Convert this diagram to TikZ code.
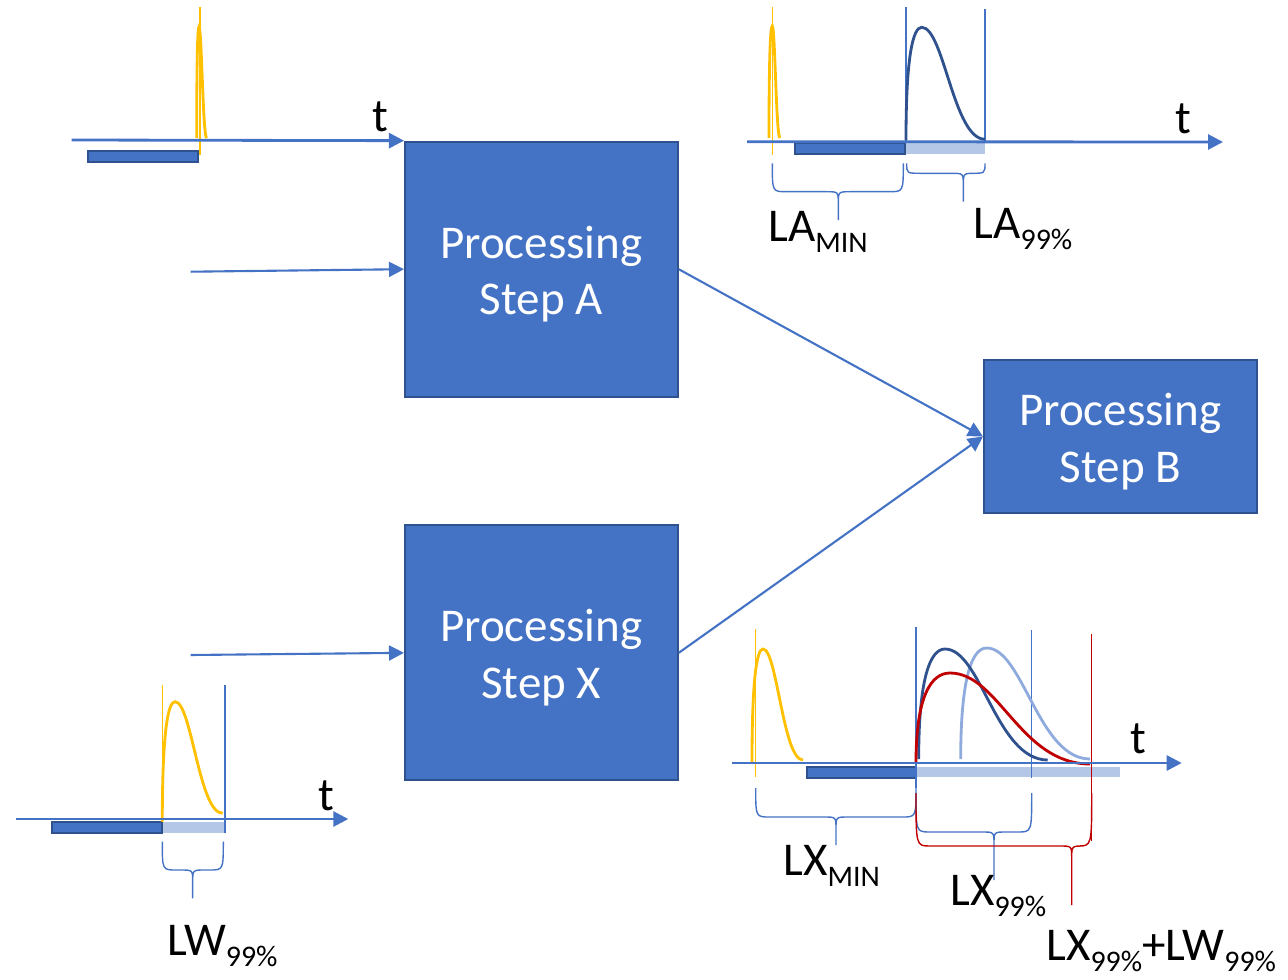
\documentclass[tikz,border=0pt]{standalone}
\usepackage{fontspec}
\setmainfont{Carlito}
\usepackage{xcolor}
\usepackage{tikz}
\usetikzlibrary{arrows.meta,positioning,calc}

\definecolor{pblue}{HTML}{4472C4}
\definecolor{pdark}{HTML}{2F528F}
\definecolor{plight}{HTML}{B4C7E7}
\definecolor{pmid}{HTML}{8FAADC}
\definecolor{pyellow}{HTML}{FFC000}
\definecolor{pred}{HTML}{C00000}

\newcommand{\lsub}[1]{\raisebox{-6.3pt}{\fontsize{17}{17}\selectfont #1}}
\newcommand{\pulse}[7][]{\draw[curve,#1] (#2,#3) .. controls (#2,{#5+0.25*(#3-#5)}) and ({#4-0.55*(#4-#2)},#5) .. (#4,#5)
  .. controls ({#4+0.35*(#6-#4)},#5) and ({#4+0.5*(#6-#4)},#7) .. (#6,#7);}
\newcommand{\tbrace}[7][]{\draw[brc,#1] (#2,#4) .. controls (#2,#5) .. ({#2+14},#5) -- ({#6-12},#5)
  .. controls (#6,#5) .. (#6,{#5+12}) -- (#6,#7) -- (#6,{#5+12}) .. controls (#6,#5) .. ({#6+12},#5)
  -- ({#3-14},#5) .. controls (#3,#5) .. (#3,#4);}

\begin{document}
\begin{tikzpicture}[x=0.02cm, y=-0.02cm, >={Triangle[length=0.3cm,width=0.3cm]},
  stepbox/.style={rectangle,draw=pdark,fill=pblue,line width=1.2pt,text=white,align=center,
    minimum width=5.454cm,minimum height=5.1cm,inner sep=0pt,font=\fontsize{26.75}{32.4}\selectfont},
  conn/.style={->,pblue,line width=1.2pt},
  axis/.style={->,pblue,line width=1.6pt},
  vline/.style={pblue,line width=0.7pt},
  curve/.style={line width=1.6pt},
  darkbar/.style={fill=pblue,draw=pdark,line width=1pt},
  brc/.style={pblue,line width=0.8pt},
  lbl/.style={inner sep=0pt,anchor=base west,font=\fontsize{26.75}{32}\selectfont}]
  \useasboundingbox (0,0) rectangle (1288,980);

  \node[stepbox] (A) at (541.35,269.2) {\rule{0pt}{24pt}Processing\\Step A};
  \node[stepbox] (X) at (541.35,652.85) {\rule{0pt}{24pt}Processing\\Step X};
  \node[stepbox,minimum height=3.06cm] (B) at (1120.35,436.5) {\rule{0pt}{24pt}Processing\\Step B};

  \coordinate (inA) at (190.7,271.7);
  \coordinate (inX) at (190.7,655);
  \draw[conn] (inA) -- (A.west);
  \draw[conn] (inX) -- (X.west);
  \draw[conn] (A.east) -- (B.west);
  \draw[conn] (X.east) -- (B.west);

  % input of A
  \draw[darkbar] (87.7,151) rectangle (198.3,162.3);
  \draw[pyellow,line width=0.7pt] (200,7) -- (200,155);
  \pulse[pyellow]{196.7}{138}{199}{26.7}{206.7}{138}
  \draw[axis] (71.7,140) -- (A.north west);
  \node[lbl] (tA) at (371.7,131.7) {t};

  % output of A
  \fill[plight] (905,143) rectangle (985,154);
  \draw[darkbar] (795,143.3) rectangle (905,154);
  \draw[pyellow,line width=0.7pt] (772.3,7) -- (772.3,155);
  \pulse[pyellow]{769}{138}{772.3}{26}{780}{138}
  \draw[vline] (906,7) -- (906,142);
  \draw[vline] (985,9) -- (985,142);
  \pulse[pdark]{906}{140}{921.7}{27.3}{985}{139.3}
  \draw[axis] (747,141.7) -- (1223,142);
  \node[lbl] (tAo) at (1175,133) {t};
  \tbrace{772.3}{903.3}{163.3}{191.7}{838.3}{220}
  \tbrace{906.7}{985}{163.3}{173.3}{963.3}{201.7}
  \node[lbl] (laMin) at (768,241.7) {LA\lsub{MIN}};
  \node[lbl] (la99) at (973.3,238.3) {LA\lsub{99\%}};

  % input of X
  \fill[plight] (162.3,822.3) rectangle (225,833.3);
  \draw[darkbar] (51.7,822.3) rectangle (162.3,833.3);
  \draw[pyellow,line width=0.7pt] (162.3,685) -- (162.3,821.7);
  \draw[vline] (225,685) -- (225,833);
  \pulse[pyellow]{162.3}{821.7}{175}{701.7}{222.7}{813.3}
  \draw[axis] (16,819) -- (348.3,819);
  \node[lbl] (tX) at (318,810) {t};
  \tbrace{162.3}{223.3}{841.7}{870}{192.7}{898.3}
  \node[lbl] (lw99) at (166.7,955) {LW\lsub{99\%}};

  % output of X
  \fill[plight] (916,767) rectangle (1120,777);
  \draw[darkbar] (807,767) rectangle (916,778);
  \draw[pyellow,line width=0.7pt] (755.7,629) -- (755.7,777);
  \pulse[pyellow]{752}{762}{763}{649}{803}{760}
  \draw[vline] (916,627) -- (916,788);
  \draw[vline] (1031.7,630) -- (1031.7,778);
  \draw[pred,line width=0.7pt] (1091.7,634) -- (1091.7,841);
  \pulse[pmid]{960.7}{759}{986.7}{648}{1090}{759}
  \pulse[pdark]{918.7}{759}{945}{649}{1047.7}{760}
  \pulse[pred]{916}{763}{950}{673}{1090}{764}
  \draw[axis] (732,763) -- (1181.7,763);
  \node[lbl] (tXo) at (1130,753) {t};
  \tbrace{755.7}{916}{788}{817}{836}{845}
  \tbrace{916}{1031.7}{793}{832}{994}{880}
  \tbrace[pred]{916}{1091.7}{793}{846}{1071.7}{905}
  \node[lbl] (lxMin) at (783,875) {LX\lsub{MIN}};
  \node[lbl] (lx99) at (950,905) {LX\lsub{99\%}};
  \node[lbl] (lxw99) at (1046,960) {LX\lsub{99\%}+LW\lsub{99\%}};
\end{tikzpicture}
\end{document}
